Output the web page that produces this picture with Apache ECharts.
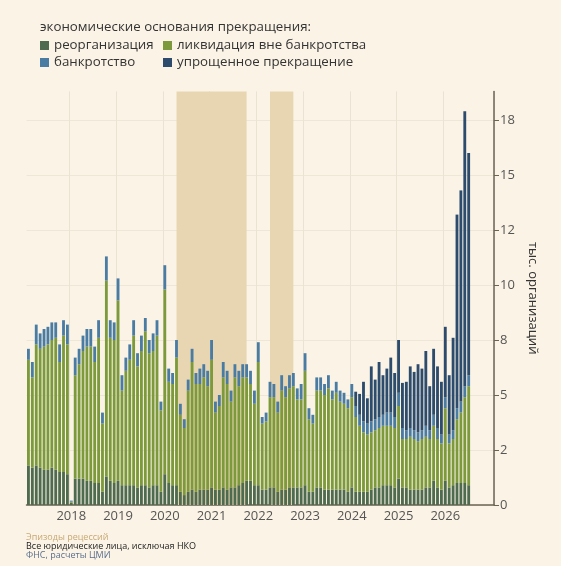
<!DOCTYPE html>
<html>
<head>
<meta charset="utf-8">
<script src="https://cdn.jsdelivr.net/npm/echarts@6/dist/echarts.min.js"></script>
<style>
	html, body { margin: 0; padding: 0; background: #FBF4E6; }
	#chart { width: 561px; height: 566px; }
</style>
</head>
<body>
<div id="chart"></div>
<script>
'use strict'

// months Feb 2017 .. Jan 2027 (axis range), data Feb 2017 .. Jul 2026
var startYear = 2017, startMonth = 2, monthCount = 120;

var reorg = [
	1.8,1.7,1.8,1.7,1.6,1.6,1.7,1.6,1.5,1.5,1.4,
	0.1,1.2,1.2,1.2,1.1,1.1,1.0,1.0,0.6,1.3,1.1,1.0,
	1.1,0.9,0.9,0.9,0.9,0.8,0.9,0.9,0.8,0.9,0.9,0.6,
	1.4,1.0,0.9,0.9,0.6,0.45,0.6,0.7,0.6,0.7,0.7,0.7,
	0.8,0.7,0.7,0.8,0.7,0.8,0.8,0.9,1.0,1.1,1.1,0.9,
	0.9,0.7,0.7,0.8,0.8,0.6,0.7,0.7,0.8,0.8,0.8,0.8,
	0.9,0.6,0.6,0.8,0.8,0.7,0.7,0.7,0.7,0.7,0.7,0.6,
	0.8,0.6,0.6,0.6,0.6,0.7,0.8,0.8,0.9,0.9,0.9,0.8,
	1.2,0.8,0.8,0.7,0.7,0.7,0.7,0.8,0.8,1.1,0.8,0.7,
	1.1,0.8,0.9,1.0,1.0,1.0,0.9
];
var liquidation = [
	4.8,4.1,5.5,5.4,5.6,5.7,5.8,6.0,5.0,6.2,5.9,
	0.05,4.7,5.2,5.8,6.1,6.1,5.5,6.6,3.1,8.9,6.5,6.5,
	8.2,4.3,5.2,5.7,6.8,5.5,6.1,7.0,6.1,6.1,6.8,3.7,
	8.4,4.6,4.6,5.8,3.5,3.05,4.6,5.8,4.9,4.8,5.1,4.7,
	5.8,3.5,3.8,5.0,4.8,3.9,5.0,4.5,4.8,4.7,4.4,3.7,
	5.6,3.0,3.1,4.1,4.1,3.6,4.5,4.2,4.5,4.6,4.0,4.0,
	5.2,3.3,3.1,4.4,4.4,4.3,4.6,4.1,4.4,4.0,3.9,3.8,
	4.1,3.4,3.0,2.7,2.6,2.6,2.6,2.7,2.7,2.7,2.7,2.7,
	3.3,2.2,2.2,2.4,2.3,2.2,2.3,2.3,2.2,2.5,2.2,2.1,
	3.3,2.0,2.1,2.9,3.2,3.9,4.5
];
var bankruptcy = [
	0.5,0.7,0.9,0.7,0.8,0.8,0.8,0.7,0.8,0.7,0.9,
	0.05,0.8,0.7,0.7,0.8,0.8,0.7,0.8,0.5,1.1,0.8,0.8,
	1.0,0.7,0.6,0.7,0.7,0.6,0.7,0.6,0.6,0.8,0.7,0.4,
	1.1,0.6,0.5,0.8,0.5,0.4,0.5,0.6,0.5,0.7,0.6,0.7,
	0.9,0.5,0.5,0.7,0.6,0.5,0.6,0.7,0.6,0.6,0.6,0.6,
	0.9,0.3,0.4,0.7,0.6,0.5,0.7,0.5,0.6,0.6,0.5,0.7,
	0.8,0.5,0.4,0.6,0.6,0.5,0.6,0.4,0.5,0.5,0.5,0.4,
	0.6,0.5,0.5,0.5,0.5,0.5,0.5,0.5,0.5,0.6,0.6,0.5,
	0.6,0.5,0.4,0.4,0.4,0.4,0.4,0.5,0.4,0.5,0.5,0.4,
	0.5,0.4,0.4,0.5,0.5,0.5,0.5
];
var simplified = [
	0,0,0,0,0,0,0,0,0,0,0,
	0,0,0,0,0,0,0,0,0,0,0,0,
	0,0,0,0,0,0,0,0,0,0,0,0,
	0,0,0,0,0,0,0,0,0,0,0,0,
	0,0,0,0,0,0,0,0,0,0,0,0,
	0,0,0,0,0,0,0,0,0,0,0,0,
	0,0,0,0,0,0,0,0,0,0,0,0,
	0,0.65,0.95,1.8,1.15,2.5,1.8,2.5,1.8,2.0,2.5,2.0,
	2.4,2.05,2.2,2.8,2.65,3.1,2.8,3.4,2.0,3.0,2.8,2.4,
	3.2,2.7,4.2,8.8,9.6,12.5,10.1
];

var recessions = [['2020-04', '2021-10'], ['2022-04', '2022-10']];
var tickValues = [0, 2.5, 5, 7.5, 10, 12.5, 15, 17.5];
var tickLabels = ['0', '2', '5', '8', '10', '12', '15', '18'];

var months = [];
for (var k = 0; k < monthCount; k++) {
	var m = startMonth - 1 + k;
	var y = startYear + Math.floor(m / 12);
	var mm = (m % 12) + 1;
	months.push(y + '-' + (mm < 10 ? '0' + mm : mm));
}
function isJan(index, value) {
	return value.slice(5) === '01' && index < monthCount - 1;
}

var colors = ['#4E6A4F', '#7C9A3B', '#4A7BA3', '#2D4B6C'];
var names = ['реорганизация', 'ликвидация вне банкротства', 'банкротство', 'упрощенное прекращение'];
var values = [reorg, liquidation, bankruptcy, simplified];

var series = values.map(function(arr, i) {
	return {
		name: names[i],
		type: 'bar',
		stack: 'total',
		data: arr,
		barCategoryGap: '27%',
		itemStyle: { color: colors[i] },
		emphasis: { disabled: true }
	};
});
series.push({
	name: 'recession',
	type: 'line',
	data: [],
	silent: true,
	markArea: {
		silent: true,
		itemStyle: { color: '#E8D6B2' },
		data: recessions.map(function(r) {
			return [{ xAxis: r[0] }, { xAxis: r[1] }];
		})
	}
});

var font = '"Open Sans", "Noto Sans", sans-serif';

var option = {
	backgroundColor: '#FBF4E6',
	animation: false,
	textStyle: { fontFamily: font },
	title: {
		text: 'экономические основания прекращения:',
		left: 40,
		top: 21,
		padding: 0,
		textStyle: { fontSize: 13.3, fontWeight: 'normal', color: '#333', fontFamily: font }
	},
	legend: [{
		data: [names[0], names[2]],
		orient: 'vertical',
		left: 40,
		top: 39,
		padding: 0,
		itemWidth: 9,
		itemHeight: 9,
		itemGap: 4,
		icon: 'rect',
		selectedMode: false,
		textStyle: { fontSize: 13.3, color: '#333' }
	}, {
		data: [names[1], names[3]],
		orient: 'vertical',
		left: 163,
		top: 39,
		padding: 0,
		itemWidth: 9,
		itemHeight: 9,
		itemGap: 4,
		icon: 'rect',
		selectedMode: false,
		textStyle: { fontSize: 13.3, color: '#333' }
	}],
	grid: {
		left: 26.5,
		right: 67,
		top: 91.4,
		bottom: 61
	},
	xAxis: {
		type: 'category',
		data: months,
		axisLine: { show: true, lineStyle: { color: '#6B6354', width: 1.5 } },
		axisTick: { show: false },
		axisLabel: {
			interval: isJan,
			formatter: function(v) { return v.slice(0, 4); },
			fontSize: 13,
			color: '#555',
			margin: 5
		},
		splitLine: {
			show: true,
			interval: isJan,
			lineStyle: { color: '#EAE2D2', width: 1 }
		}
	},
	yAxis: {
		type: 'value',
		position: 'right',
		min: 0,
		max: 18.8,
		interval: 2.5,
		name: 'тыс. организаций',
		nameLocation: 'middle',
		nameRotate: -90,
		nameGap: 25,
		nameTextStyle: { fontSize: 13, color: '#333' },
		axisLine: { show: true, lineStyle: { color: '#6B6354', width: 1.5 } },
		axisTick: { show: true, length: 5, customValues: tickValues, lineStyle: { color: '#6B6354' } },
		axisLabel: {
			customValues: tickValues,
			fontSize: 13,
			color: '#555',
			margin: 6,
			formatter: function(v) {
				var idx = tickValues.indexOf(v);
				return idx >= 0 ? tickLabels[idx] : '';
			}
		},
		splitLine: { show: true, lineStyle: { color: '#EEE6D7', width: 1 } }
	},
	graphic: [{
		type: 'text', left: 26, top: 533,
		style: { text: 'Эпизоды рецессий', fontSize: 9, fill: '#C6A874', fontFamily: font }
	}, {
		type: 'text', left: 26, top: 542,
		style: { text: 'Все юридические лица, исключая НКО', fontSize: 9, fill: '#222', fontFamily: font }
	}, {
		type: 'text', left: 26, top: 551,
		style: { text: 'ФНС, расчеты ЦМИ', fontSize: 9, fill: '#5B6E8C', fontFamily: font }
	}],
	series: series,
	color: colors
};

var chart = echarts.init(document.getElementById('chart'));
chart.setOption(option);
</script>
</body>
</html>
